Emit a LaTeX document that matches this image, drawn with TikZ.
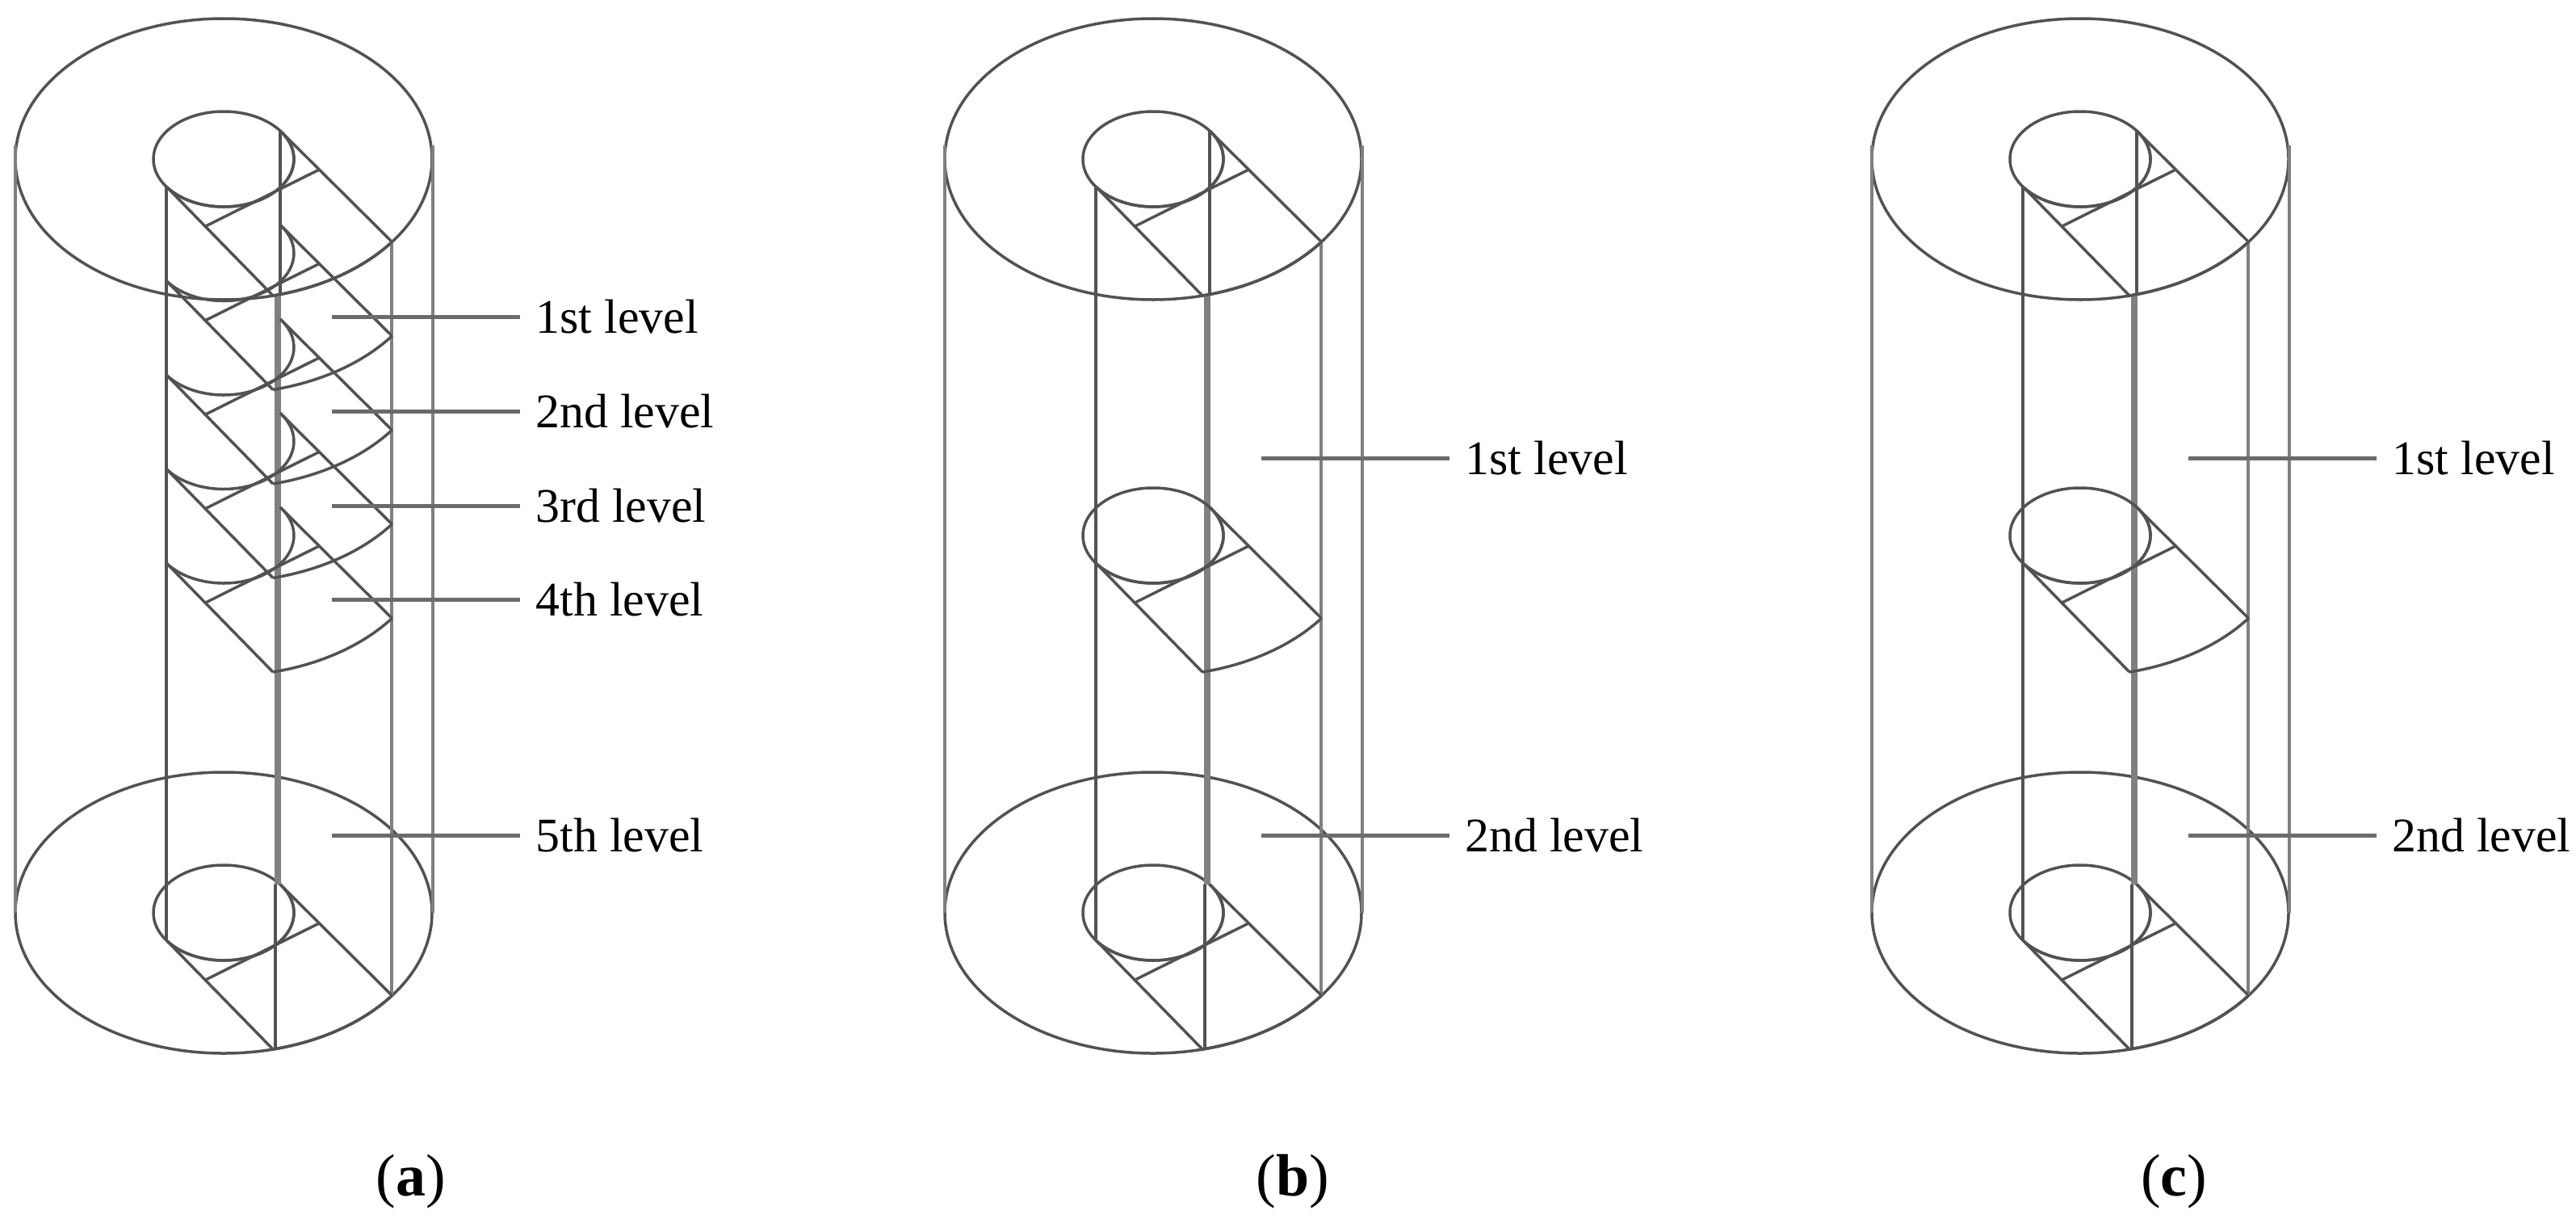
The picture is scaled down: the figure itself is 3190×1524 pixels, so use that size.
\documentclass[tikz,border=0pt]{standalone}
\usepackage{fontspec}
\setmainfont{Liberation Serif}
\usetikzlibrary{calc}

\newcommand{\vane}[1]{%
	\begin{scope}[shift={(0,#1)}]
		\coordinate (A) at (347,162);
		\coordinate (B) at (207,232);
		\coordinate (C) at (485,299);
		\coordinate (D) at (338,366);
		\draw[wire]	(A) -- (C);
		\draw[wire]	(B) -- (D);
		\draw[wire]	($(A)!0.35!(C)$) -- ($(B)!0.36!(D)$);
		\draw[wire]	(D) arc [start angle=76.3, end angle=36, x radius=258, y radius=174];
		\draw[wire]	(A) arc [start angle=-36.4, end angle=143.6, x radius=87, y radius=59];
	\end{scope}
}

\newcommand{\cylinder}{%
	\draw[wire]	(277,197) circle [x radius=258, y radius=174];
	\draw[wire]	(277,197) circle [x radius=87, y radius=59];
	\draw[wire]	(277,1130) circle [x radius=258, y radius=174];
	\draw[wire]	(277,1130) circle [x radius=87, y radius=59];
	\draw[edge]	(19,180) -- (19,1130);
	\draw[edge]	(536,180) -- (536,1130);
	\draw[wire]	(206,232) -- (206,1165);
	\draw[wire]	(347,162) -- (347,366);
	\draw[edge]	(346,366) -- (346,1095);
	\draw[edge]	(342,366) -- (342,1095);
	\draw[wire]	(341,1095) -- (341,1299);
	\draw[edge]	(485,299) -- (485,1232);
	\vane{0}
	\vane{933}
}

\begin{document}
\begin{tikzpicture}[x=0.01cm, y=-0.01cm,
	wire/.style={draw=black!68, line width=0.035cm},
	edge/.style={draw=black!50, line width=0.045cm},
	leader/.style={draw=black!58, line width=0.05cm},
	levellabel/.style={anchor=west, inner xsep=0.19cm, inner ysep=0pt, font=\fontsize{17}{20}\selectfont},
	caption/.style={font=\fontsize{21}{25}\selectfont}]
	\useasboundingbox (0,0) rectangle (3190,1524);

	% panel a
	\begin{scope}
		\cylinder
		\foreach \k in {116.5,233,349.5,466} {\vane{\k}}
		\foreach \n/\y/\t in {1/392/1st level, 2/509/2nd level, 3/626/3rd level, 4/742/4th level, 5/1034/5th level} {
			\coordinate (a\n) at (411,\y);
			\node[levellabel] (lab\n) at (644,\y) {\t};
			\draw[leader]	(a\n) -- (lab\n.west);
		}
	\end{scope}

	% panels b and c
	\foreach \p/\x in {b/1151,c/2299} {
		\begin{scope}[shift={(\x,0)}]
			\cylinder
			\draw[wire]	(277,663) circle [x radius=87, y radius=59];
			\vane{466}
			\foreach \n/\y/\t in {1/567/1st level, 2/1034/2nd level} {
				\coordinate (\p\n) at (411,\y);
				\node[levellabel] (lab\p\n) at (644,\y) {\t};
				\draw[leader]	(\p\n) -- (lab\p\n.west);
			}
		\end{scope}
	}

	\node[caption] (capa) at (509,1463) {(\textbf{a})};
	\node[caption] (capb) at (1601,1463) {(\textbf{b})};
	\node[caption] (capc) at (2692,1463) {(\textbf{c})};
\end{tikzpicture}
\end{document}
